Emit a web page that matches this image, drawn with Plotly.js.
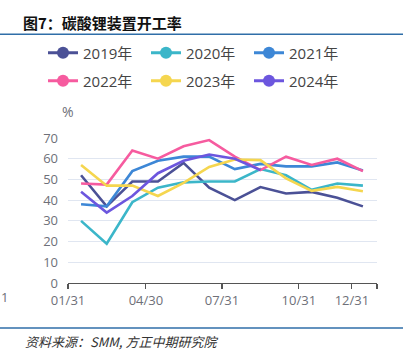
<!DOCTYPE html>
<html>
<head>
<meta charset="utf-8">
<script src="https://cdn.plot.ly/plotly-3.0.1.min.js"></script>
<style>
  html, body { margin: 0; padding: 0; background: #fff; }
  #chart { width: 407px; height: 352px; }
</style>
</head>
<body>
<div id="chart"></div>
<script>
// ---- data ----
const months = [1, 2, 3, 4, 5, 6, 7, 8, 9, 10, 11, 12];
const seriesNames = ['2019年', '2020年', '2021年', '2022年', '2023年', '2024年'];
const y2019 = [52, 37, 49, 49, 58, 46, 40, 46.3, 43.2, 44, 41.2, 37];
const y2020 = [30, 19, 39, 46, 48.6, 49, 49, 55, 52, 45, 48, 47];
const y2021 = [38, 37, 54, 59, 61, 61, 55, 57.5, 56.3, 56.3, 58.2, 54.3];
const y2022 = [48, 47.5, 64, 60, 66, 69, 61, 54.5, 61, 57, 60, 54];
const y2023 = [57, 47, 47, 42, 48.3, 56, 59.6, 59.3, 50.5, 44.5, 46.4, 44.3];
const y2024 = [44, 34, 42, 53, 59, 62, 60, 54.5];
const tickPos = [0.49, 3.53, 6.5, 9.5, 11.57, 12.55];
const tickText = ['01/31', '04/30', '07/31', '10/31', '12/31', ''];

const colors = ['#4b5196', '#3bb6c9', '#3d87d6', '#f65b9f', '#f5d64f', '#6c56de'];
const allY = [y2019, y2020, y2021, y2022, y2023, y2024];

const FONT = 'Open Sans, "Noto Sans CJK SC", sans-serif';
const traces = [];
allY.forEach((ys, i) => {
  traces.push({
    x: months.slice(0, ys.length), y: ys, type: 'scatter', mode: 'lines',
    line: { color: colors[i], width: 2.6 }, showlegend: false, hoverinfo: 'skip'
  });
});
// legend entries
allY.forEach((ys, i) => {
  traces.push({
    x: [null], y: [null], type: 'scatter', mode: 'lines+markers', name: seriesNames[i],
    line: { color: colors[i], width: 3 }, marker: { color: colors[i], size: 12 },
    legend: i < 3 ? 'legend' : 'legend2'
  });
});

const legendCommon = {
  orientation: 'h', xref: 'container', yref: 'container',
  xanchor: 'left', yanchor: 'middle',
  entrywidth: 58, entrywidthmode: 'pixels',
  font: { family: FONT, size: 15, color: '#444' },
  bgcolor: 'rgba(0,0,0,0)', borderwidth: 0, itemclick: false, itemdoubleclick: false
};

const layout = {
  width: 407, height: 352,
  margin: { l: 68, r: 30, t: 137.5, b: 69.3, pad: 0 },
  paper_bgcolor: '#ffffff', plot_bgcolor: '#ffffff',
  font: { family: FONT, color: '#6e7079' },
  showlegend: true,
  legend: Object.assign({}, legendCommon, { x: 43 / 407, y: 1 - 53 / 352 }),
  legend2: Object.assign({}, legendCommon, { x: 43 / 407, y: 1 - 81 / 352 }),
  xaxis: {
    range: [0.49, 12.55], tickmode: 'array', tickvals: tickPos, ticktext: tickText,
    ticks: 'outside', ticklen: 5, tickwidth: 1.2, tickcolor: '#555',
    showline: true, linecolor: '#555', linewidth: 1.2,
    showgrid: false, zeroline: false,
    tickfont: { family: FONT, size: 13, color: '#6e7079' }, fixedrange: true
  },
  yaxis: {
    range: [0, 70], tickmode: 'linear', tick0: 0, dtick: 10,
    showgrid: true, gridcolor: '#e0e6f1', gridwidth: 1,
    zeroline: false, showline: false, ticks: '', ticklabelstandoff: 9,
    tickfont: { family: FONT, size: 13, color: '#6e7079' }, fixedrange: true
  },
  shapes: [
    { type: 'line', xref: 'paper', yref: 'paper', x0: -68 / 309, x1: 335 / 309,
      y0: (352 - 33.7 - 69.3) / 145.2, y1: (352 - 33.7 - 69.3) / 145.2,
      line: { color: '#2f6ea8', width: 1.5 } },
    { type: 'line', xref: 'paper', yref: 'paper', x0: -68 / 309, x1: 335 / 309,
      y0: (352 - 327.7 - 69.3) / 145.2, y1: (352 - 327.7 - 69.3) / 145.2,
      line: { color: '#2f6ea8', width: 1.5 } }
  ],
  annotations: [
    { text: '<b>图7：碳酸锂装置开工率</b>', xref: 'paper', yref: 'paper',
      x: -47 / 309, y: (352 - 22 - 69.3) / 145.2, xanchor: 'left', yanchor: 'middle',
      showarrow: false, font: { family: '"Noto Sans CJK SC", sans-serif', size: 15, color: '#111' } },
    { text: '%', xref: 'paper', yref: 'paper', x: 0 / 309, y: (352 - 111 - 69.3) / 145.2,
      xanchor: 'center', yanchor: 'middle', showarrow: false,
      font: { family: FONT, size: 14, color: '#6e7079' } },
    { text: '1', xref: 'paper', yref: 'paper', x: -68 / 309, y: (352 - 297 - 69.3) / 145.2,
      xanchor: 'left', yanchor: 'middle', showarrow: false, borderpad: 0,
      font: { family: FONT, size: 13, color: '#6e7079' } },
    { text: '<i>资料来源：SMM, 方正中期研究院</i>', xref: 'paper', yref: 'paper',
      x: -45 / 309, y: (352 - 341 - 69.3) / 145.2, xanchor: 'left', yanchor: 'middle',
      showarrow: false, font: { family: '"Noto Sans CJK SC", sans-serif', size: 13, color: '#333' } }
  ]
};

Plotly.newPlot('chart', traces, layout, { staticPlot: true, displayModeBar: false });
</script>
</body>
</html>
